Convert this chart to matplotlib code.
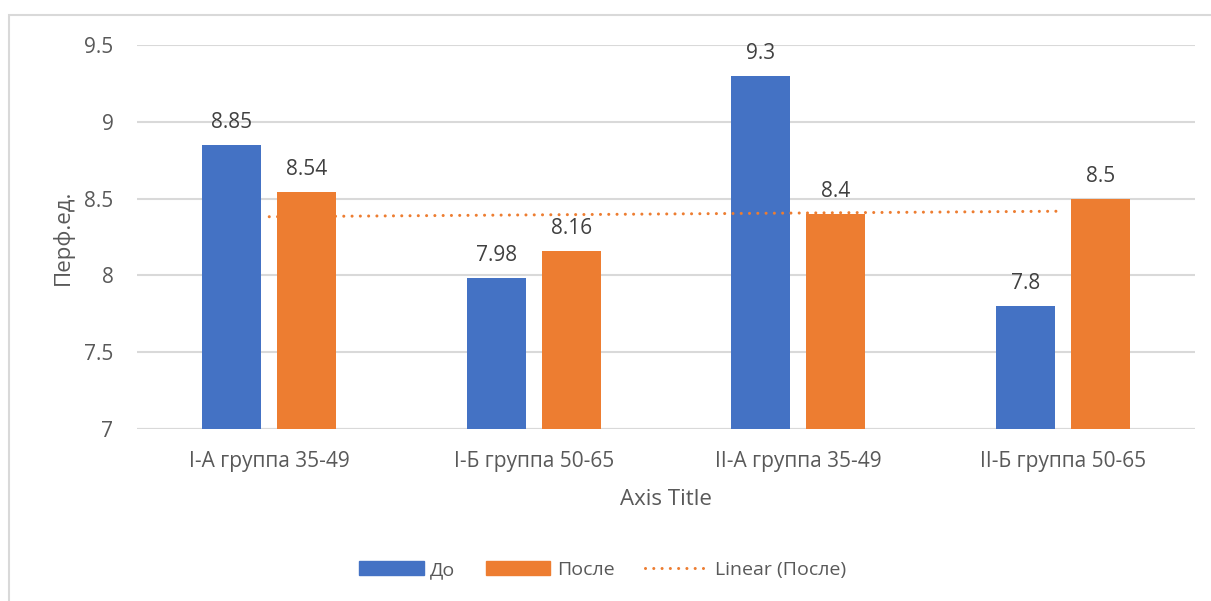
import numpy as np
import matplotlib
matplotlib.use("Agg")
import matplotlib.pyplot as plt
from matplotlib.patches import Patch, Rectangle
from matplotlib.lines import Line2D

plt.rcParams['font.family'] = ['Open Sans', 'DejaVu Sans']

categories = ["I-А группа 35-49", "I-Б группа 50-65", "II-А группа 35-49", "II-Б группа 50-65"]
before = [8.85, 7.98, 9.3, 7.8]
after = [8.54, 8.16, 8.4, 8.5]
series_names = ["До", "После"]
y_ticks = [7, 7.5, 8, 8.5, 9, 9.5]

BLUE = "#4472C4"
ORANGE = "#ED7D31"
TEXT = "#595959"
GRID = "#D9D9D9"

W, H = 1211, 601
fig = plt.figure(figsize=(W / 100, H / 100), dpi=100)
ax = fig.add_axes([137 / W, 1 - 429 / H, 1058 / W, 384 / H])

x = np.arange(len(categories))
bw = 0.223
off = 0.142
ax.bar(x - off, before, bw, color=BLUE, zorder=3)
ax.bar(x + off, after, bw, color=ORANGE, zorder=3)

fs = 15
for xi, v in zip(x, before):
    ax.annotate(f"{v:g}", (xi - off, v), xytext=(0, 12), textcoords="offset pixels",
                ha="center", va="bottom", fontsize=fs, color="#404040")
for xi, v in zip(x, after):
    ax.annotate(f"{v:g}", (xi + off, v), xytext=(0, 12), textcoords="offset pixels",
                ha="center", va="bottom", fontsize=fs, color="#404040")

# Linear trend of the "После" series
k, b = np.polyfit(x, after, 1)
trend_style = dict(color=ORANGE, lw=2.2, linestyle=(0, (0.01, 2.7)), dash_capstyle="round")
ax.plot(x, k * x + b, zorder=4, **trend_style)

ax.set_xlim(-0.5, len(categories) - 0.5)
ax.set_ylim(7, 9.5)
ax.set_yticks(y_ticks)
ax.set_yticklabels([f"{t:g}" for t in y_ticks])
ax.set_xticks(x)
ax.set_xticklabels(categories)
ax.tick_params(axis="both", length=0, labelsize=fs, colors=TEXT)
ax.tick_params(axis="y", pad=17)
ax.tick_params(axis="x", pad=16)
ax.grid(axis="y", color=GRID, lw=1.5, zorder=0)
for s in ax.spines.values():
    s.set_visible(False)
ax.axhline(7, color=GRID, lw=1.5, zorder=2)

ax.set_xlabel("Axis Title", fontsize=16, color=TEXT, labelpad=12)
ax.set_ylabel("Перф.ед.", fontsize=16, color=TEXT, labelpad=7)

handles = [Patch(color=BLUE), Patch(color=ORANGE), Line2D([], [], **trend_style)]
labels = series_names + ["Linear (После)"]
leg = fig.legend(handles, labels, loc="center", bbox_to_anchor=(603 / W, 1 - 570 / H), ncol=3,
                 frameon=False, fontsize=14, handlelength=3.3, handleheight=0.72,
                 handletextpad=0.35, columnspacing=1.55)
for t in leg.get_texts():
    t.set_color(TEXT)

fig.patches.append(Rectangle((9 / W, -0.1), 1.2, 1.1 - 15 / H, transform=fig.transFigure,
                             fill=False, edgecolor=GRID, lw=1.5))

fig.savefig("out.png", dpi=100)
